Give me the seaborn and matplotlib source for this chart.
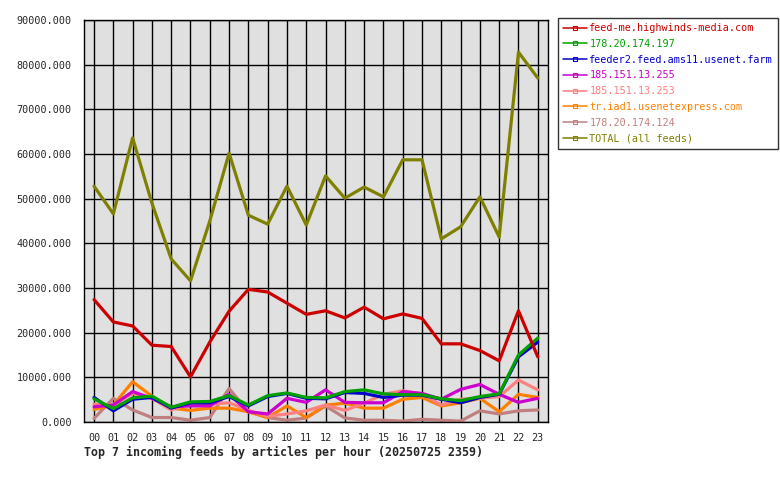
import pandas as pd
import matplotlib
matplotlib.use("Agg")
import matplotlib.pyplot as plt
import seaborn as sns
from matplotlib.lines import Line2D

hours = [f"{h:02d}" for h in range(24)]

feeds = [
    "feed-me.highwinds-media.com",
    "178.20.174.197",
    "feeder2.feed.ams11.usenet.farm",
    "185.151.13.255",
    "185.151.13.253",
    "tr.iad1.usenetexpress.com",
    "178.20.174.124",
    "TOTAL (all feeds)",
]
colors = ["#cc0000", "#00a000", "#0000cc", "#cc00cc", "#ff8080", "#ff8000", "#c08080", "#808000"]

highwinds = [27400, 22400, 21500, 17200, 16900, 10100, 17900, 24800, 29700, 29100, 26600, 24100,
             24900, 23300, 25700, 23100, 24200, 23200, 17500, 17500, 16000, 13700, 24900, 14600]
ip_197 = [5200, 3000, 5400, 5800, 3300, 4500, 4600, 5900, 3800, 5900, 6500, 5500,
          5400, 6800, 7200, 6300, 6100, 6100, 5200, 4800, 5700, 6300, 15000, 18800]
ams11 = [5500, 2500, 5100, 5500, 3100, 4300, 4300, 5700, 3600, 5700, 6400, 5300,
         5200, 6600, 6400, 5500, 6000, 6000, 5100, 4300, 5500, 6200, 14600, 17900]
ip_255 = [3400, 3800, 6800, 5300, 3400, 3600, 3600, 6200, 2300, 1800, 5300, 4400,
          7200, 4400, 4300, 4300, 6800, 6400, 5100, 7300, 8400, 6200, 4400, 5300]
ip_253 = [4000, 3800, 6400, 5300, 2700, 4200, 4000, 4300, 2600, 1300, 1800, 2500,
          3800, 2600, 4200, 6200, 7000, 6300, 3800, 5100, 5300, 5700, 9400, 7200]
usenetexpress = [2800, 3800, 9000, 5800, 3100, 2600, 3100, 3100, 2300, 1000, 3600, 1000,
                 3800, 4200, 3100, 3100, 5100, 5500, 3600, 4300, 5300, 2300, 6200, 5500]
ip_124 = [800, 5300, 2700, 1000, 1000, 400, 1000, 7500, 2300, 1000, 400, 900,
          3600, 900, 400, 400, 200, 600, 400, 200, 2500, 1800, 2500, 2700]
total = [52800, 46600, 63600, 49000, 36500, 31600, 45000, 60200, 46300, 44300, 52800, 44100,
         55100, 50100, 52600, 50400, 58700, 58700, 41000, 43700, 50400, 41400, 82800, 77000]

series = [highwinds, ip_197, ams11, ip_255, ip_253, usenetexpress, ip_124, total]

rows = []
for name, vals in zip(feeds, series):
    for i, v in enumerate(vals):
        rows.append({"hour": i, "feed": name, "articles": v})
df = pd.DataFrame(rows)

sns.set_style("white")
plt.rcParams["font.family"] = ["DejaVu Sans Mono"]

fig = plt.figure(figsize=(7.8, 4.8), dpi=100)
ax = fig.add_axes([84 / 780, 58 / 480, 464 / 780, 402 / 480])
ax.set_facecolor("#e0e0e0")

# draw in reverse so the first feeds end up on top
draw_order = [6, 5, 4, 3, 2, 1, 0, 7]
for idx in draw_order:
    sub = df[df["feed"] == feeds[idx]]
    sns.lineplot(data=sub, x="hour", y="articles", color=colors[idx], linewidth=2.3,
                 ax=ax, legend=False)

ax.set_xlim(-0.52, 23.53)
ax.set_ylim(0, 90000)
ax.set_xticks(range(24))
ax.set_xticklabels(hours)
ax.set_yticks(range(0, 90001, 10000))
ax.set_yticklabels([f"{v}.000" for v in range(0, 90001, 10000)])
ax.grid(True, color="black", linewidth=1)
ax.set_axisbelow(True)
ax.set_xlabel("")
ax.set_ylabel("")
for s in ax.spines.values():
    s.set_color("black")
    s.set_linewidth(1)
ax.tick_params(axis="y", length=7, width=1, color="black", labelsize=7.3, pad=2)
ax.tick_params(axis="x", length=0, labelsize=7.3, pad=8)

handles = [Line2D([0], [0], color=c, linewidth=1.1, marker="s", markersize=2.5,
                  markerfacecolor="none", markeredgecolor=c, markeredgewidth=0.8) for c in colors]
leg = fig.legend(handles, feeds, loc="upper left", bbox_to_anchor=(558 / 780, 1 - 18 / 480),
                 fontsize=7.3, frameon=True, fancybox=False, handlelength=2.4,
                 handletextpad=0.2, labelspacing=0.57, borderpad=0.5, borderaxespad=0)
leg.get_frame().set_edgecolor("black")
leg.get_frame().set_linewidth(1)
for t, c in zip(leg.get_texts(), colors):
    t.set_color(c)

fig.text(84 / 780, 1 - 452 / 480, "Top 7 incoming feeds by articles per hour (20250725 2359)",
         fontsize=8.4, fontweight="bold", va="center", ha="left")

fig.savefig("out.png", dpi=100)
